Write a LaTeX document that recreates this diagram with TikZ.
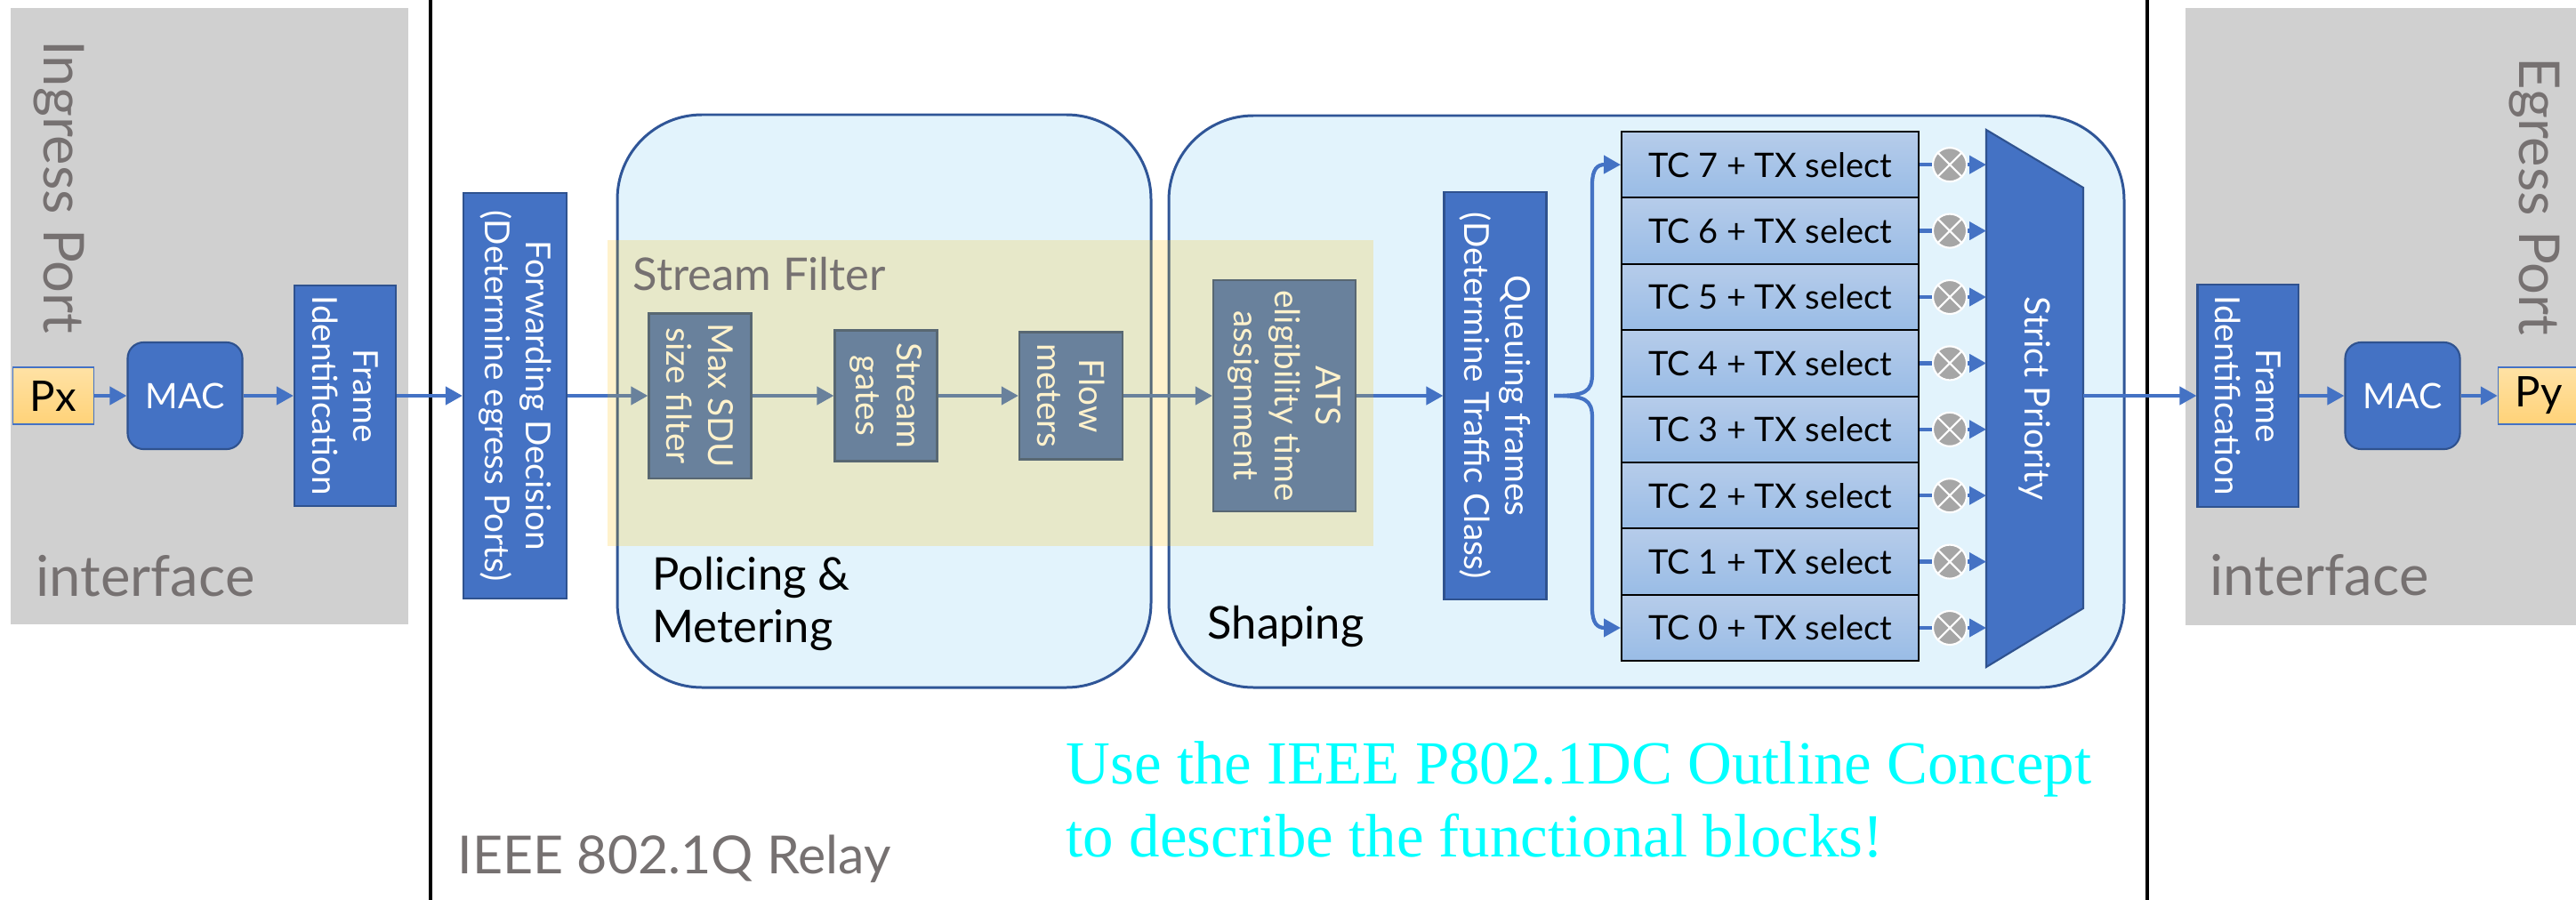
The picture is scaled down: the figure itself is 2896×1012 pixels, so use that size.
\documentclass[tikz,border=0pt]{standalone}
\usepackage{fontspec}
\setmainfont{Lato}
\newfontfamily\notefont{Liberation Serif}
\usetikzlibrary{positioning,arrows.meta}

\definecolor{blkblue}{RGB}{68,114,196}
\definecolor{blkline}{RGB}{47,82,143}
\definecolor{panelgray}{RGB}{208,208,208}
\definecolor{graytext}{RGB}{118,113,113}
\definecolor{stagefill}{RGB}{226,243,252}
\definecolor{stageline}{RGB}{47,85,151}
\definecolor{filteryellow}{RGB}{255,190,0}
\definecolor{tctop}{RGB}{182,204,234}
\definecolor{tcbot}{RGB}{153,188,230}
\definecolor{porttop}{RGB}{255,226,165}
\definecolor{portbot}{RGB}{255,210,120}
\definecolor{multgray}{RGB}{166,166,166}
\definecolor{notecyan}{RGB}{0,255,255}

\begin{document}
\begin{tikzpicture}[x=0.01cm, y=-0.01cm,
  panel/.style={fill=panelgray},
  paneltext/.style={text=graytext, inner sep=0pt, font=\fontsize{18}{21}\selectfont},
  stage/.style={draw=stageline, fill=stagefill, line width=0.85pt, rounded corners=0.95cm},
  stagetext/.style={inner sep=0pt, align=left, font=\fontsize{14.4}{17}\selectfont},
  portbox/.style={draw=blkblue, line width=0.4pt, top color=porttop, bottom color=portbot, minimum width=0.91cm, minimum height=0.64cm, inner sep=0pt, font=\fontsize{13.5}{15}\selectfont},
  macbox/.style={draw=blkline, fill=blkblue, text=white, line width=0.6pt, rounded corners=0.18cm, minimum width=1.29cm, minimum height=1.2cm, inner sep=0pt, font=\fontsize{11.2}{13}\selectfont},
  vbox/.style={draw=blkline, fill=blkblue, text=white, line width=0.6pt, rotate=-90, align=center, inner sep=0pt, font=\fontsize{11}{13.2}\selectfont},
  tcbox/.style={draw=black, line width=0.5pt, top color=tctop, bottom color=tcbot, minimum width=3.34cm, minimum height=0.74cm, inner sep=0pt, font=\fontsize{10.8}{12}\selectfont},
  gatesym/.style={circle, fill=multgray, draw=white, line width=0.6pt, minimum size=0.38cm, inner sep=0pt},
  flow/.style={draw=blkblue, line width=1.2pt},
  arrow/.style={flow, -{Triangle[length=0.19cm, width=0.2cm]}}
]
\useasboundingbox (0,0) rectangle (2896,1012);

% ingress and egress port panels
\fill[panel] (12,9) rectangle (459,702);
\fill[panel] (2457,9) rectangle (2900,703);
\node[paneltext, rotate=-90, anchor=base east] (inport) at (50,376) {Ingress Port};
\node[paneltext, rotate=-90, anchor=base east] (outport) at (2832,378) {Egress Port};
\node[paneltext, anchor=base west] (inif) at (40,670) {interface};
\node[paneltext, anchor=base west] (outif) at (2484,669) {interface};

% relay frame
\draw[line width=1pt] (484,-5) -- (484,1020);
\draw[line width=1pt] (2414,-5) -- (2414,1020);
\node[paneltext, font=\fontsize{16.8}{20}\selectfont, anchor=base west] (relay) at (514,982) {IEEE 802.1Q Relay};

% policing and shaping stages
\draw[stage] (694,129) rectangle (1294,773);
\draw[stage] (1314,130) rectangle (2388,773);
\node[stagetext, anchor=north west] (police) at (733,625) {Policing \&\\Metering};
\node[stagetext, anchor=base west] (shape) at (1357,718) {Shaping};

% ingress side
\node[portbox] (px) at (60,445) {Px};
\node[macbox] (macin) at (208,445) {MAC};
\node[vbox, minimum width=2.48cm, minimum height=1.14cm] (fidin) at (388,445) {Frame\\Identification};
\node[vbox, minimum width=4.55cm, minimum height=1.16cm] (fwd) at (579,445) {Forwarding Decision\\(Determine egress Ports)};
\node[vbox, minimum width=1.85cm, minimum height=1.15cm] (sdu) at (787,445) {Max SDU\\size filter};
\node[vbox, minimum width=1.47cm, minimum height=1.15cm] (gates) at (996,445) {Stream\\gates};
\node[vbox, minimum width=1.43cm, minimum height=1.16cm] (meters) at (1204,445) {Flow\\meters};
\node[vbox, minimum width=2.59cm, minimum height=1.6cm] (ats) at (1444,445) {ATS\\eligibility time\\assignment};
\node[vbox, minimum width=4.58cm, minimum height=1.15cm] (queue) at (1681,445) {Queuing frames\\(Determine Traffic Class)};

% strict priority selector
\filldraw[fill=blkblue, draw=blkline, line width=0.6pt] (2233,146) coordinate (sptop) -- (2342,211) -- (2342,684) -- (2233,750) -- cycle;
\node[rotate=-90, text=white, font=\fontsize{11.2}{13}\selectfont] (prio) at (2287,448) {Strict Priority};
\coordinate (spout) at (2342,445);

% traffic classes
\foreach \i in {0,...,7} {
  \node[tcbox] (tc\i) at (1990,{706-74.4*\i}) {TC \i{} + TX select};
  \node[gatesym] (g\i) at (2192,{706-74.4*\i}) {};
  \draw[white, line width=0.6pt] (g\i.north east) -- (g\i.south west) (g\i.north west) -- (g\i.south east);
  \draw[flow] (tc\i) -- (g\i);
  \draw[arrow] (g\i) -- (g\i -| sptop);
}

% egress side
\node[vbox, minimum width=2.49cm, minimum height=1.13cm] (fidout) at (2527,445) {Frame\\Identification};
\node[macbox] (macout) at (2701,445) {MAC};
\node[portbox] (py) at (2854,445) {Py};

% frame path
\draw[arrow] (px) -- (macin);
\draw[arrow] (macin) -- (fidin);
\draw[arrow] (fidin) -- (fwd);
\draw[arrow] (fwd) -- (sdu);
\draw[arrow] (sdu) -- (gates);
\draw[arrow] (gates) -- (meters);
\draw[arrow] (meters) -- (ats);
\draw[arrow] (ats) -- (queue);
\coordinate (split) at (1747,445);
\draw[arrow] (split) .. controls (1782,445) and (1790,441) .. (1790,420) -- (1790,207) .. controls (1790,190) and (1796,185) .. (tc7.west);
\draw[arrow] (split) .. controls (1782,445) and (1790,449) .. (1790,470) -- (1790,684) .. controls (1790,701) and (1796,706) .. (tc0.west);
\draw[arrow] (spout) -- (fidout);
\draw[arrow] (fidout) -- (macout);
\draw[arrow] (macout) -- (py);

% stream filter overlay
\fill[filteryellow, opacity=0.2] (683,270) rectangle (1544,614);
\node[text=graytext, inner sep=0pt, anchor=base west, font=\fontsize{14.4}{17}\selectfont] (sfilter) at (711,326) {Stream Filter};

% note
\node[text=notecyan, inner sep=0pt, anchor=north west, align=left, font=\notefont\fontsize{19.6}{23.3}\selectfont] (note) at (1198,833) {Use the IEEE P802.1DC Outline Concept\\to describe the functional blocks!};
\end{tikzpicture}
\end{document}
